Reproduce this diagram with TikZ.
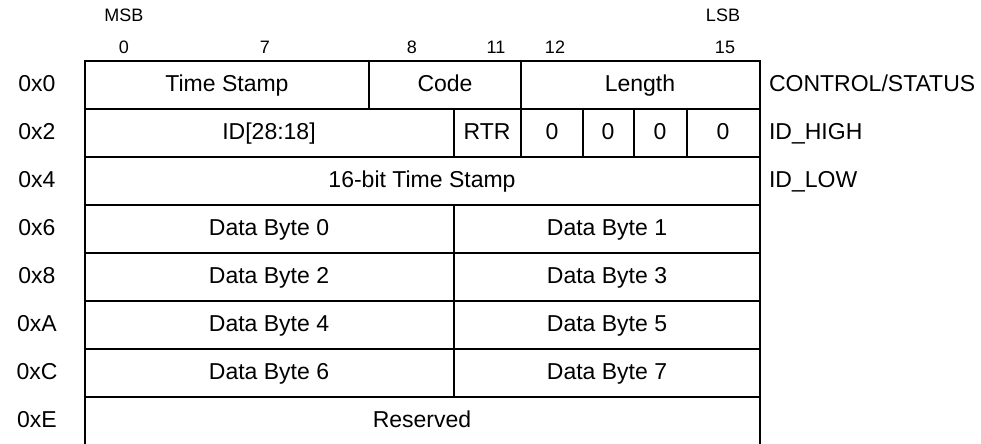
\documentclass[tikz,border=0pt]{standalone}
\usepackage{fontspec}
\setmainfont{Liberation Sans}
\usetikzlibrary{positioning}

\begin{document}
\begin{tikzpicture}[x=0.5pt, y=-0.5pt, font=\fontsize{11.5}{13}\selectfont,
  every node/.style={text height=1.6ex, text depth=0.3ex},
  grid/.style={line width=1.1pt},
  small/.style={font=\fontsize{9}{11}\selectfont}]
  \useasboundingbox (0,0) rectangle (981,444);

  % ビット番号
  \node[small] (msb) at (124,15) {MSB};
  \node[small] (lsb) at (723,15) {LSB};
  \node[small] (b0) at (124,47) {0};
  \node[small] (b7) at (265,47) {7};
  \node[small] (b8) at (412,47) {8};
  \node[small] (b11) at (496,47) {11};
  \node[small] (b12) at (555,47) {12};
  \node[small] (b15) at (725,47) {15};

  % 枠と横線
  \draw[grid] (85,444) -- (85,61) -- (760,61) -- (760,444);
  \draw[grid] (85,109) -- (760,109);
  \draw[grid] (85,157) -- (760,157);
  \draw[grid] (85,205) -- (760,205);
  \draw[grid] (85,253) -- (760,253);
  \draw[grid] (85,301) -- (760,301);
  \draw[grid] (85,349) -- (760,349);
  \draw[grid] (85,397) -- (760,397);

  % 縦線
  \draw[grid] (369,61) -- (369,109);
  \draw[grid] (521,61) -- (521,157);
  \draw[grid] (454,109) -- (454,157);
  \draw[grid] (583,109) -- (583,157);
  \draw[grid] (634,109) -- (634,157);
  \draw[grid] (687,109) -- (687,157);
  \draw[grid] (454,205) -- (454,397);

  % アドレス
  \node (a0) at (37,85) {0x0};
  \node (a2) at (37,133) {0x2};
  \node (a4) at (37,181) {0x4};
  \node (a6) at (37,229) {0x6};
  \node (a8) at (37,277) {0x8};
  \node (aA) at (37,325) {0xA};
  \node (aC) at (37,373) {0xC};
  \node (aE) at (37,421) {0xE};

  % フィールド
  \node (ts) at (227,85) {Time Stamp};
  \node (code) at (445,85) {Code};
  \node (len) at (640,85) {Length};
  \node (id) at (269,133) {ID[28:18]};
  \node (rtr) at (487,133) {RTR};
  \node (z0) at (552,133) {0};
  \node (z1) at (608,133) {0};
  \node (z2) at (660,133) {0};
  \node (z3) at (723,133) {0};
  \node (ts16) at (422,181) {16-bit Time Stamp};
  \node (d0) at (269,229) {Data Byte 0};
  \node (d1) at (607,229) {Data Byte 1};
  \node (d2) at (269,277) {Data Byte 2};
  \node (d3) at (607,277) {Data Byte 3};
  \node (d4) at (269,325) {Data Byte 4};
  \node (d5) at (607,325) {Data Byte 5};
  \node (d6) at (269,373) {Data Byte 6};
  \node (d7) at (607,373) {Data Byte 7};
  \node (res) at (422,421) {Reserved};

  % レジスタ名
  \node[anchor=west] (ctrl) at (762,85) {CONTROL/STATUS};
  \node[anchor=west] (idh) at (762,133) {ID\_HIGH};
  \node[anchor=west] (idl) at (762,181) {ID\_LOW};
\end{tikzpicture}
\end{document}
